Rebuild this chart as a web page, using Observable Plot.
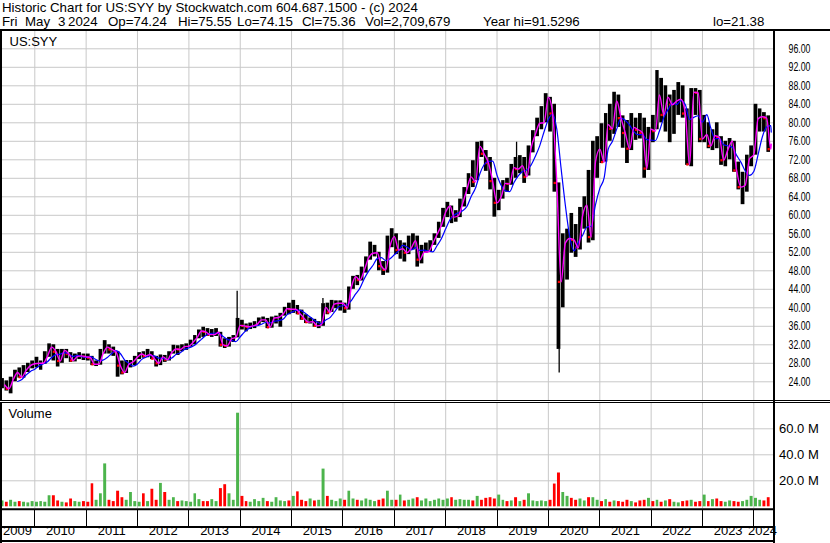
<!DOCTYPE html>
<html><head><meta charset="utf-8">
<script src="https://cdn.jsdelivr.net/npm/d3@7"></script>
<script src="https://cdn.jsdelivr.net/npm/@observablehq/plot@0.6"></script>
<style>
body{margin:0;background:#fff;font-family:"Liberation Sans",Arial,sans-serif;}
#wrap{position:relative;width:830px;height:543px;overflow:hidden;background:#fff;}
#hdr{position:absolute;left:0;top:0;width:830px;height:31px;border-bottom:2px solid #000;font-size:13.3px;line-height:14px;white-space:pre;box-sizing:border-box;}
#hdr span{position:absolute;}
#price{position:absolute;left:0;top:31px;width:830px;height:369px;border-bottom:3px double #000;}
#vol{position:absolute;left:0;top:403px;width:830px;height:140px;}
svg{display:block;overflow:visible}
</style></head>
<body><div id="wrap">
<div id="hdr"></div>
<div id="price"></div><div id="vol"></div>
</div>
<script>
// header text tokens (line, left position)
const headerTokens = [
 ["Historic Chart for US:SYY by Stockwatch.com 604.687.1500 - (c) 2024", 0, 2],
 ["Fri", 1, 2], ["May", 1, 25], ["3", 1, 58], ["2024", 1, 68],
 ["Op=74.24", 1, 108], ["Hi=75.55", 1, 178], ["Lo=74.15", 1, 237], ["Cl=75.36", 1, 302],
 ["Vol=2,709,679", 1, 365], ["Year hi=91.5296", 1, 483], ["lo=21.38", 1, 713]
];
// Monthly bars, May 2009 .. May 2024 (last month partial)
const highs = [
 24.7,24.2,25.0,26.5,27.0,27.5,28.0,28.5,
 29.3,28.5,30.5,32.2,32.0,31.0,31.0,31.0,30.3,30.0,30.3,30.0,
 30.0,29.5,28.5,31.0,32.9,32.0,31.5,30.5,28.5,28.6,28.6,29.5,
 30.3,30.5,31.0,30.5,29.5,29.8,29.7,30.5,31.9,31.8,32.0,32.2,
 33.0,34.0,35.2,35.8,35.5,35.3,35.5,34.7,33.3,33.6,34.0,37.7,
 37.3,36.5,36.7,37.0,37.8,38.0,37.7,38.0,38.2,38.8,40.1,41.0,
 41.6,40.5,39.5,38.5,37.8,37.5,37.0,40.9,41.0,41.6,41.5,41.5,
 41.0,44.5,46.8,47.0,48.8,51.0,54.2,53.5,52.0,50.0,55.5,57.1,
 56.0,54.5,54.0,55.5,56.0,55.5,53.5,54.0,54.5,56.0,58.5,61.5,
 62.8,62.0,61.0,63.5,66.0,69.0,71.8,75.8,76.0,74.0,72.5,68.0,
 65.4,67.5,68.0,71.0,72.5,72.9,72.5,75.0,78.3,81.0,83.5,86.3,
 85.5,84.0,67.0,56.0,57.0,60.4,58.0,61.7,64.0,69.7,76.0,77.0,
 79.8,82.0,84.0,86.6,86.0,81.5,80.5,82.0,81.0,82.0,81.0,79.0,
 81.6,91.3,89.6,88.0,86.0,87.0,88.7,88.0,83.0,87.4,87.4,87.0,
 81.6,80.0,78.5,80.0,77.0,76.0,76.6,76.0,71.5,69.3,73.0,75.0,
 84.0,83.0,82.2,81.5,75.55];
const lows = [
 22.5,22.0,21.4,24.0,24.8,24.8,26.0,26.8,
 27.0,26.5,27.8,29.3,28.5,27.2,28.0,29.0,28.2,28.3,28.8,28.6,
 28.5,27.5,27.3,27.6,30.0,30.0,29.5,25.0,25.5,25.8,27.0,27.5,
 28.8,29.1,29.2,28.8,27.2,27.5,28.2,28.5,30.0,29.7,30.5,30.8,
 31.5,32.0,33.3,33.6,33.8,33.6,33.8,31.5,31.2,31.5,32.5,33.5,
 35.2,34.8,35.3,35.5,36.2,36.8,35.5,35.6,36.5,35.8,38.2,38.5,
 38.8,38.5,37.3,36.6,36.5,35.8,35.5,36.0,38.5,39.0,39.8,39.3,
 38.8,39.5,44.0,44.8,45.8,47.5,50.3,51.0,48.0,47.0,47.5,53.0,
 51.5,50.5,49.9,51.5,52.5,48.8,49.5,51.8,52.0,53.5,55.0,57.4,
 59.5,58.2,58.5,59.5,61.8,64.5,66.0,67.5,72.5,69.5,65.5,59.6,
 61.0,63.5,65.0,66.5,68.0,69.0,66.9,68.5,73.5,77.0,78.5,80.0,
 78.0,65.0,31.0,40.0,46.0,51.8,50.9,52.5,57.0,54.0,54.5,68.0,
 71.2,71.5,76.0,77.5,79.0,74.5,71.2,74.0,76.2,76.5,68.0,69.7,
 75.7,78.5,80.0,78.0,75.7,77.5,81.6,81.0,70.8,70.5,81.6,75.7,
 75.7,74.4,74.0,74.4,70.8,70.5,72.0,69.3,65.5,62.3,65.0,70.5,
 73.0,78.0,78.0,73.6,74.15];
const closes = [
 23.3,22.5,24.5,26.0,25.0,26.5,27.5,27.9,
 28.0,28.0,29.5,31.5,30.5,28.5,30.8,30.0,28.6,29.5,29.6,29.4,
 29.2,27.8,27.8,30.0,31.5,31.0,30.5,27.5,26.0,27.8,28.3,29.3,
 30.0,29.6,29.9,29.0,28.0,29.4,28.8,30.3,31.1,31.0,31.6,31.7,
 32.6,33.6,35.0,34.8,34.2,34.2,34.7,32.0,31.8,33.3,33.6,36.2,
 36.1,35.9,36.1,36.4,37.4,37.4,35.8,37.8,37.9,38.6,39.8,39.7,
 39.7,38.8,37.7,36.9,37.0,36.1,36.3,40.1,39.0,40.8,41.0,41.0,
 39.9,44.4,46.7,46.0,48.1,50.7,51.8,51.9,49.0,48.2,53.3,55.4,
 52.5,52.8,51.9,52.9,54.5,50.4,52.0,52.1,53.9,55.9,57.8,60.7,
 62.0,59.6,59.9,62.5,65.6,68.3,67.2,74.9,73.3,71.3,67.4,62.7,
 64.1,66.9,66.8,70.3,70.0,70.7,68.3,74.6,77.5,79.9,80.0,85.5,
 82.0,67.0,45.6,54.0,55.0,54.7,53.0,60.0,62.2,55.3,71.5,74.3,
 71.5,79.6,78.7,84.7,81.0,77.8,74.4,79.0,78.5,77.8,70.1,78.6,
 78.2,86.0,81.7,85.5,83.9,84.7,85.1,82.0,71.0,86.6,86.5,76.5,
 77.5,75.0,77.2,76.8,71.9,74.2,76.0,69.7,66.1,66.5,72.2,73.1,
 80.9,81.3,81.0,74.3,75.36];
// volume, millions of shares
const volumes = [
 4.5,3.5,5.0,3.5,4.0,3.5,3.0,4.0,
 3.5,4.0,3.5,8.5,8.5,4.5,3.5,3.0,6.0,4.0,3.5,4.0,
 3.5,17.7,5.0,10.0,33.0,5.0,4.0,12.0,7.0,5.0,11.0,4.0,
 3.5,10.0,4.0,13.5,5.0,18.0,11.0,5.0,7.0,4.0,4.5,4.0,
 3.5,10.0,5.5,4.0,4.0,5.5,4.0,14.0,17.0,10.0,5.0,72.0,
 8.0,4.0,3.5,5.5,4.0,6.5,4.0,3.5,7.0,4.5,4.0,4.5,
 8.0,11.5,5.0,4.0,6.0,4.5,5.0,29.0,8.0,5.0,4.0,6.0,
 5.0,12.0,6.0,5.0,4.5,6.0,5.0,4.0,5.0,6.0,12.0,5.0,
 5.0,9.0,4.5,5.0,6.0,7.0,4.5,6.0,4.0,5.0,6.0,5.0,
 6.0,7.0,5.0,5.5,5.0,5.0,4.5,8.0,5.0,6.5,7.0,6.0,
 9.0,5.0,4.0,4.5,7.0,4.0,5.0,10.0,4.5,4.0,4.5,4.0,
 5.0,17.5,26.0,11.0,8.0,6.5,5.0,6.0,4.5,7.0,7.0,5.0,
 4.0,5.5,3.5,4.5,4.0,3.5,5.0,4.0,3.0,4.5,5.0,6.5,
 4.0,5.0,3.5,4.5,5.5,3.5,3.0,4.0,4.5,5.0,3.5,4.0,
 9.0,4.0,5.5,6.0,4.0,3.5,4.5,4.0,3.5,4.0,5.0,8.0,
 6.5,5.0,4.5,7.0,3.0];
// single-day spikes beyond the monthly range
const spikeDates = ["2013-12-10","2015-08-12","2019-05-20","2020-03-18"];
const spikeBase = [37.7, 40.9, 72.5, 31.0];
const spikeTip = [43.6, 42.0, 75.8, 25.9];

const priceTicks = [24,28,32,36,40,44,48,52,56,60,64,68,72,76,80,84,88,92,96];
const volumeTicks = [20,40,60];
const yearLabels = ["2009","2010","2011","2012","2013","2014","2015","2016","2017","2018","2019","2020","2021","2022","2023","2024"];

// header
{
  const hdr = d3.select("#hdr");
  for (const [t, line, left] of headerTokens) {
    hdr.append("span").style("left", left+"px").style("top", (1 + line*14)+"px").text(t);
  }
}

const firstDay = new Date(Date.UTC(2009,4,1));
const lastDay = new Date(Date.UTC(2024,4,4));
const bars = highs.map((h,i)=>{
  const start = new Date(Date.UTC(2009,4+i,1));
  let end = new Date(Date.UTC(2009,5+i,1));
  if (end > lastDay) end = lastDay;
  return {start, end, mid:new Date((+start + +end)/2), high:h, low:lows[i], close:closes[i],
          volume:volumes[i], up: i===0 ? true : closes[i] >= closes[i-1]};
});
const spikes = spikeDates.map((d,i)=>({date:new Date(d+"T00:00Z"), base:spikeBase[i], tip:spikeTip[i]}));
const yearDates = yearLabels.slice(1).map(y=>new Date(Date.UTC(+y,0,1)));
const yearMid = yearLabels.map(y=>{
  const a = Math.max(+new Date(Date.UTC(+y,0,1)), +firstDay);
  const b = Math.min(+new Date(Date.UTC(+y+1,0,1)), +lastDay);
  return {label:y, mid:new Date((a+b)/2)};
});

const GRID = "#c8c8c8", RED = "#ff0000", GREEN = "#4cb44c";
const FONT = "'Liberation Sans', Arial, sans-serif";
const X = {type:"utc", domain:[new Date(Date.UTC(2010,0,1)), new Date(Date.UTC(2024,0,1))], range:[34.3,753.3], axis:null};

const priceChart = Plot.plot({
  width:830, height:369, marginLeft:0, marginRight:56, marginTop:0, marginBottom:0,
  style:{background:"white", fontFamily:FONT, fontSize:"13px", color:"black", overflow:"visible"},
  x:X,
  y:{domain:[24,96], range:[350.3,17.3], axis:null},
  marks:[
    Plot.ruleY(priceTicks, {stroke:GRID, strokeWidth:1}),
    Plot.ruleX(yearDates, {stroke:GRID, strokeWidth:1}),
    Plot.rect(bars, {x1:"start", x2:"end", y1:"low", y2:"high", fill:"black", insetLeft:0.3, insetRight:0.3}),
    Plot.ruleX(spikes, {x:"date", y1:"base", y2:"tip", stroke:"black", strokeWidth:1.3}),
    Plot.dot(bars.filter(d=>!d.up), {x:"mid", y:"close", symbol:"square", r:1.3, fill:RED, stroke:null}),
    Plot.lineY(bars, Plot.windowY({k:4, anchor:"end", strict:true}, {x:"end", y:"close", stroke:"#0000ff", strokeWidth:1.2, curve:"monotone-x"})),
    Plot.lineY(bars, {x:"end", y:"close", stroke:"#ff00ff", strokeWidth:1.4, curve:"monotone-x"}),
    Plot.text(priceTicks, {y:d=>d, text:d=>d.toFixed(2), frameAnchor:"right", dx:14, textAnchor:"start", fill:"black", fontSize:13}),
    Plot.text(["US:SYY"], {frameAnchor:"top-left", text:d=>d, dx:9, dy:5.5, textAnchor:"start", lineAnchor:"top", fill:"black", fontSize:13})
  ]
});
document.getElementById("price").appendChild(priceChart);

const volChart = Plot.plot({
  width:830, height:140, marginLeft:0, marginRight:56, marginTop:0, marginBottom:35,
  style:{background:"white", fontFamily:FONT, fontSize:"13px", color:"black", overflow:"visible"},
  x:X,
  y:{domain:[0,60], range:[103.3,25.3], axis:null},
  marks:[
    Plot.ruleY(volumeTicks, {stroke:GRID, strokeWidth:1}),
    Plot.ruleX(yearDates, {stroke:GRID, strokeWidth:1}),
    Plot.rect(bars, {x1:"start", x2:"end", y1:d=>0, y2:"volume", fill:d=>d.up?GREEN:RED, insetLeft:0.7, insetRight:0.7}),
    Plot.text(volumeTicks, {y:d=>d, text:d=>d.toFixed(1)+" M", frameAnchor:"right", dx:4.5, textAnchor:"start", fill:"black", fontSize:13}),
    Plot.text(["Volume"], {frameAnchor:"top-left", text:d=>d, dx:8, dy:5, textAnchor:"start", lineAnchor:"top", fill:"black", fontSize:13}),
    Plot.text(yearMid, {x:"mid", text:"label", frameAnchor:"bottom", dy:26.5, fill:"black", fontSize:13})
  ]
});
document.getElementById("vol").appendChild(volChart);

// chart chrome: panel borders and year tick marks
const xs = volChart.scale("x");
{
  const s = d3.select(priceChart);
  s.append("line").attr("x1",1).attr("x2",1).attr("y1",0).attr("y2",369).attr("stroke","black").attr("stroke-width",2);
  s.append("line").attr("x1",774).attr("x2",774).attr("y1",0).attr("y2",372).attr("stroke","black").attr("stroke-width",2);
  const v = d3.select(volChart);
  v.append("line").attr("x1",1).attr("x2",1).attr("y1",0).attr("y2",140).attr("stroke","black").attr("stroke-width",2);
  v.append("line").attr("x1",774).attr("x2",774).attr("y1",-3).attr("y2",140).attr("stroke","black").attr("stroke-width",2);
  for (const yy of [106.3, 124, 138]) {
    v.append("line").attr("x1",0).attr("x2",774).attr("y1",yy).attr("y2",yy).attr("stroke","black").attr("stroke-width",2);
  }
  for (const d of yearDates) {
    const px = Math.round(xs.apply(d)) + 0.5;
    v.append("line").attr("x1",px).attr("x2",px).attr("y1",107).attr("y2",123).attr("stroke","black").attr("stroke-width",1);
  }
  // price labels are horizontally condensed in the original
  s.selectAll("text").filter(function(){return /^\d+\.\d\d$/.test(this.textContent);})
    .attr("textLength",22).attr("lengthAdjust","spacingAndGlyphs");
}
</script>
</body></html>
